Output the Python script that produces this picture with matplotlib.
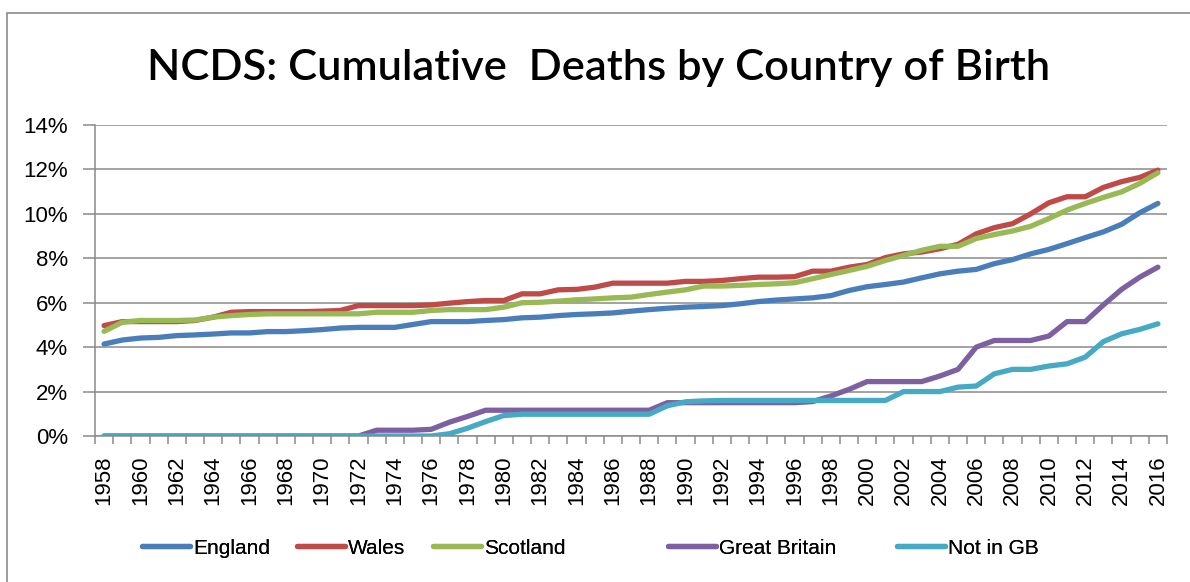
import matplotlib.pyplot as plt
from matplotlib.patches import Rectangle
from matplotlib.ticker import FuncFormatter, MultipleLocator

# Datos (porcentaje acumulado de muertes)
years = list(range(1958, 2017))

england = [4.14, 4.32, 4.41, 4.44, 4.52, 4.55, 4.59, 4.64, 4.64, 4.70,
           4.70, 4.74, 4.79, 4.86, 4.89, 4.89, 4.89, 5.02, 5.15, 5.15,
           5.15, 5.20, 5.24, 5.32, 5.35, 5.42, 5.47, 5.50, 5.54, 5.62,
           5.69, 5.75, 5.80, 5.83, 5.87, 5.95, 6.05, 6.12, 6.17, 6.22,
           6.32, 6.55, 6.72, 6.82, 6.93, 7.12, 7.30, 7.42, 7.50, 7.76,
           7.94, 8.20, 8.40, 8.66, 8.93, 9.19, 9.53, 10.05, 10.47]

wales = [4.97, 5.15, 5.15, 5.15, 5.15, 5.20, 5.35, 5.57, 5.60, 5.60,
         5.60, 5.60, 5.62, 5.65, 5.87, 5.87, 5.87, 5.87, 5.90, 5.98,
         6.05, 6.10, 6.10, 6.40, 6.40, 6.58, 6.60, 6.70, 6.88, 6.88,
         6.88, 6.88, 6.96, 6.96, 7.00, 7.08, 7.15, 7.15, 7.17, 7.42,
         7.42, 7.60, 7.72, 8.03, 8.20, 8.28, 8.43, 8.63, 9.10, 9.38,
         9.56, 10.00, 10.50, 10.77, 10.77, 11.19, 11.45, 11.64, 11.97]

scotland = [4.71, 5.12, 5.20, 5.20, 5.20, 5.22, 5.35, 5.42, 5.47, 5.50,
            5.50, 5.50, 5.50, 5.50, 5.50, 5.57, 5.57, 5.57, 5.65, 5.69,
            5.69, 5.69, 5.80, 6.00, 6.02, 6.07, 6.13, 6.17, 6.22, 6.25,
            6.37, 6.48, 6.58, 6.75, 6.75, 6.78, 6.82, 6.85, 6.90, 7.08,
            7.27, 7.45, 7.64, 7.90, 8.13, 8.36, 8.54, 8.54, 8.89, 9.07,
            9.23, 9.44, 9.79, 10.17, 10.47, 10.74, 10.99, 11.37, 11.85]

great_britain = [0, 0, 0, 0, 0, 0, 0, 0, 0, 0,
                 0, 0, 0, 0, 0, 0.26, 0.26, 0.26, 0.30, 0.62,
                 0.88, 1.16, 1.16, 1.16, 1.16, 1.16, 1.16, 1.16, 1.16, 1.16,
                 1.16, 1.50, 1.50, 1.50, 1.50, 1.50, 1.50, 1.50, 1.50, 1.55,
                 1.80, 2.10, 2.45, 2.45, 2.45, 2.45, 2.70, 3.00, 4.00, 4.30,
                 4.30, 4.30, 4.50, 5.15, 5.15, 5.90, 6.60, 7.15, 7.60]

not_in_gb = [0, 0, 0, 0, 0, 0, 0, 0, 0, 0,
             0, 0, 0, 0, 0, 0, 0, 0, 0, 0.10,
             0.35, 0.65, 0.92, 0.98, 0.98, 0.98, 0.98, 0.98, 0.98, 0.98,
             0.98, 1.36, 1.54, 1.58, 1.60, 1.60, 1.60, 1.60, 1.60, 1.60,
             1.60, 1.60, 1.60, 1.60, 2.00, 2.00, 2.00, 2.20, 2.25, 2.80,
             3.00, 3.00, 3.15, 3.25, 3.55, 4.25, 4.60, 4.80, 5.05]

series = [
    ("England", england, "#4A7EBB"),
    ("Wales", wales, "#BE4B48"),
    ("Scotland", scotland, "#98B954"),
    ("Great Britain", great_britain, "#7D60A0"),
    ("Not in GB", not_in_gb, "#46AAC5"),
]

# posicion x (px) donde empieza cada entrada de la leyenda
legend_x = [142, 297, 433, 668, 897]

plt.rcParams['font.family'] = ['Liberation Sans', 'DejaVu Sans']

fig = plt.figure(figsize=(11.9, 5.82), dpi=100)
ax = fig.add_axes([95 / 1190, 1 - 436 / 582, (1167 - 95) / 1190, (436 - 125) / 582])

# borde del area del grafico
fig.patches.append(Rectangle((7 / 1190, -0.1), 1.2, 1 - 13 / 582 + 0.1,
                             transform=fig.transFigure, fill=False,
                             edgecolor="#8c8c8c", linewidth=1.2))

lineas = []
for nombre, valores, color in series:
    l, = ax.plot(years, valores, color=color, lw=3.8, label=nombre,
                 solid_joinstyle="round", solid_capstyle="round")
    lineas.append(l)

ax.set_xlim(1957.5, 2016.5)
ax.set_ylim(0, 14)
ax.yaxis.set_major_locator(MultipleLocator(2))
ax.yaxis.set_major_formatter(FuncFormatter(lambda v, p: f"{v:.0f}%"))
ax.grid(axis="y", color="#8a8a8a", lw=1.1)
ax.set_axisbelow(True)

ax.set_xticks(years[::2])
ax.set_xticklabels([str(y) for y in years[::2]], rotation=90)
ax.set_xticks([y - 0.5 for y in years] + [2016.5], minor=True)
ax.tick_params(axis="x", which="major", length=0, pad=14, labelsize=16)
ax.tick_params(axis="x", which="minor", length=6, color="#8a8a8a", width=1.1)
ax.tick_params(axis="y", length=8.5, color="#8a8a8a", width=1.1, pad=11,
               labelsize=16)

for s in ["top", "right"]:
    ax.spines[s].set_visible(False)
for s in ["left", "bottom"]:
    ax.spines[s].set_color("#8a8a8a")
    ax.spines[s].set_linewidth(1.1)

fig.text(599 / 1190, 1 - 80 / 582, "NCDS: Cumulative  Deaths by Country of Birth",
         ha="center", va="baseline", fontsize=31.3, family=["Lato", "DejaVu Sans"],
         fontweight="semibold")

# una leyenda por serie, como en Excel
for l, x0 in zip(lineas, legend_x):
    leg = fig.legend(handles=[l], loc="center left",
                     bbox_to_anchor=(x0 / 1190, 1 - 548 / 582),
                     frameon=False, fontsize=15, handlelength=2.3,
                     handletextpad=0.15, borderpad=0, borderaxespad=0)
    fig.add_artist(leg)

fig.savefig("out.png", dpi=100)
